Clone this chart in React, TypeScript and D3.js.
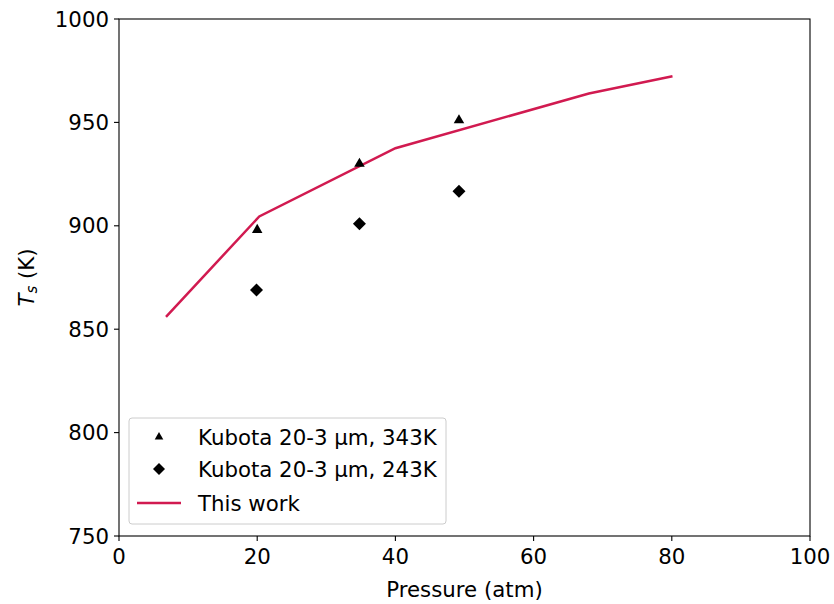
import React from "react";
import * as d3 from "d3";

const xTicks = [0, 20, 40, 60, 80, 100];
const yTicks = [750, 800, 850, 900, 950, 1000];

const triP = [20.0, 34.8, 49.2];
const triT = [898, 930, 951];
const diaP = [19.9, 34.8, 49.2];
const diaT = [869, 901, 916.7];
const lineP = [6.8, 20.3, 40, 68, 80.1];
const lineT = [856, 904.5, 937.5, 964, 972.3];

const W = 834, H = 604;
const L = 119, R = 810, T = 19, B = 536;
const LINE_COLOR = "#d11a50";
const FONT = "DejaVu Sans, sans-serif";
const FS = 21.3;

export default function App() {
  const x = d3.scaleLinear().domain([0, 100]).range([L, R]);
  const y = d3.scaleLinear().domain([750, 1000]).range([B, T]);
  const lineGen = d3.line<number>().x((d, i) => x(lineP[i])).y((d) => y(d));
  const tri = d3.symbol().type(d3.symbolTriangle).size(48)();
  const triLeg = d3.symbol().type(d3.symbolTriangle).size(32)();
  const dia = (s: number) => `M0,${-s}L${s},0L0,${s}L${-s},0Z`;

  return (
    <svg width={W} height={H} style={{ position: "absolute", left: 0, top: 0, background: "#fff" }} fontFamily={FONT}>
      <rect x={0} y={0} width={W} height={H} fill="#fff" />
      <path d={lineGen(lineT) || ""} fill="none" stroke={LINE_COLOR} strokeWidth={2.5} />
      {triP.map((p, i) => (
        <path key={"t" + i} d={tri || ""} transform={`translate(${x(p)},${y(triT[i])})`} fill="#000" />
      ))}
      {diaP.map((p, i) => (
        <path key={"d" + i} d={dia(6.5)} transform={`translate(${x(p)},${y(diaT[i])})`} fill="#000" />
      ))}
      <rect x={L} y={T} width={R - L} height={B - T} fill="none" stroke="#000" strokeWidth={1.1} />
      {xTicks.map((t) => (
        <g key={"x" + t}>
          <line x1={x(t)} x2={x(t)} y1={B} y2={B + 5} stroke="#000" strokeWidth={1.1} />
          <text x={x(t)} y={564} textAnchor="middle" style={{ fontSize: FS }} fill="#000">{t}</text>
        </g>
      ))}
      {yTicks.map((t) => (
        <g key={"y" + t}>
          <line x1={L - 5} x2={L} y1={y(t)} y2={y(t)} stroke="#000" strokeWidth={1.1} />
          <text x={L - 10} y={y(t)} dy="0.36em" textAnchor="end" style={{ fontSize: FS }} fill="#000">{t}</text>
        </g>
      ))}
      <text x={(L + R) / 2} y={596.5} textAnchor="middle" style={{ fontSize: FS }} fill="#000">Pressure (atm)</text>
      <text transform={`translate(34,${(T + B) / 2}) rotate(-90)`} textAnchor="middle" style={{ fontSize: FS }} fill="#000">
        <tspan fontStyle="italic">T</tspan>
        <tspan fontStyle="italic" style={{ fontSize: 15 }} dy={3}>s</tspan>
        <tspan dy={-3}> (K)</tspan>
      </text>
      <g>
        <rect x={129} y={418} width={317} height={106} rx={3} fill="#fff" fillOpacity={0.8} stroke="#ccc" strokeWidth={1} />
        <path d={triLeg || ""} transform="translate(159,437)" fill="#000" />
        <text x={198} y={437} dy="0.36em" style={{ fontSize: FS }} fill="#000">Kubota 20-3 μm, 343K</text>
        <path d={dia(6)} transform="translate(159,469)" fill="#000" />
        <text x={198} y={469} dy="0.36em" style={{ fontSize: FS }} fill="#000">Kubota 20-3 μm, 243K</text>
        <line x1={137} x2={181} y1={503} y2={503} stroke={LINE_COLOR} strokeWidth={2.5} />
        <text x={198} y={503} dy="0.36em" style={{ fontSize: FS }} fill="#000">This work</text>
      </g>
    </svg>
  );
}
